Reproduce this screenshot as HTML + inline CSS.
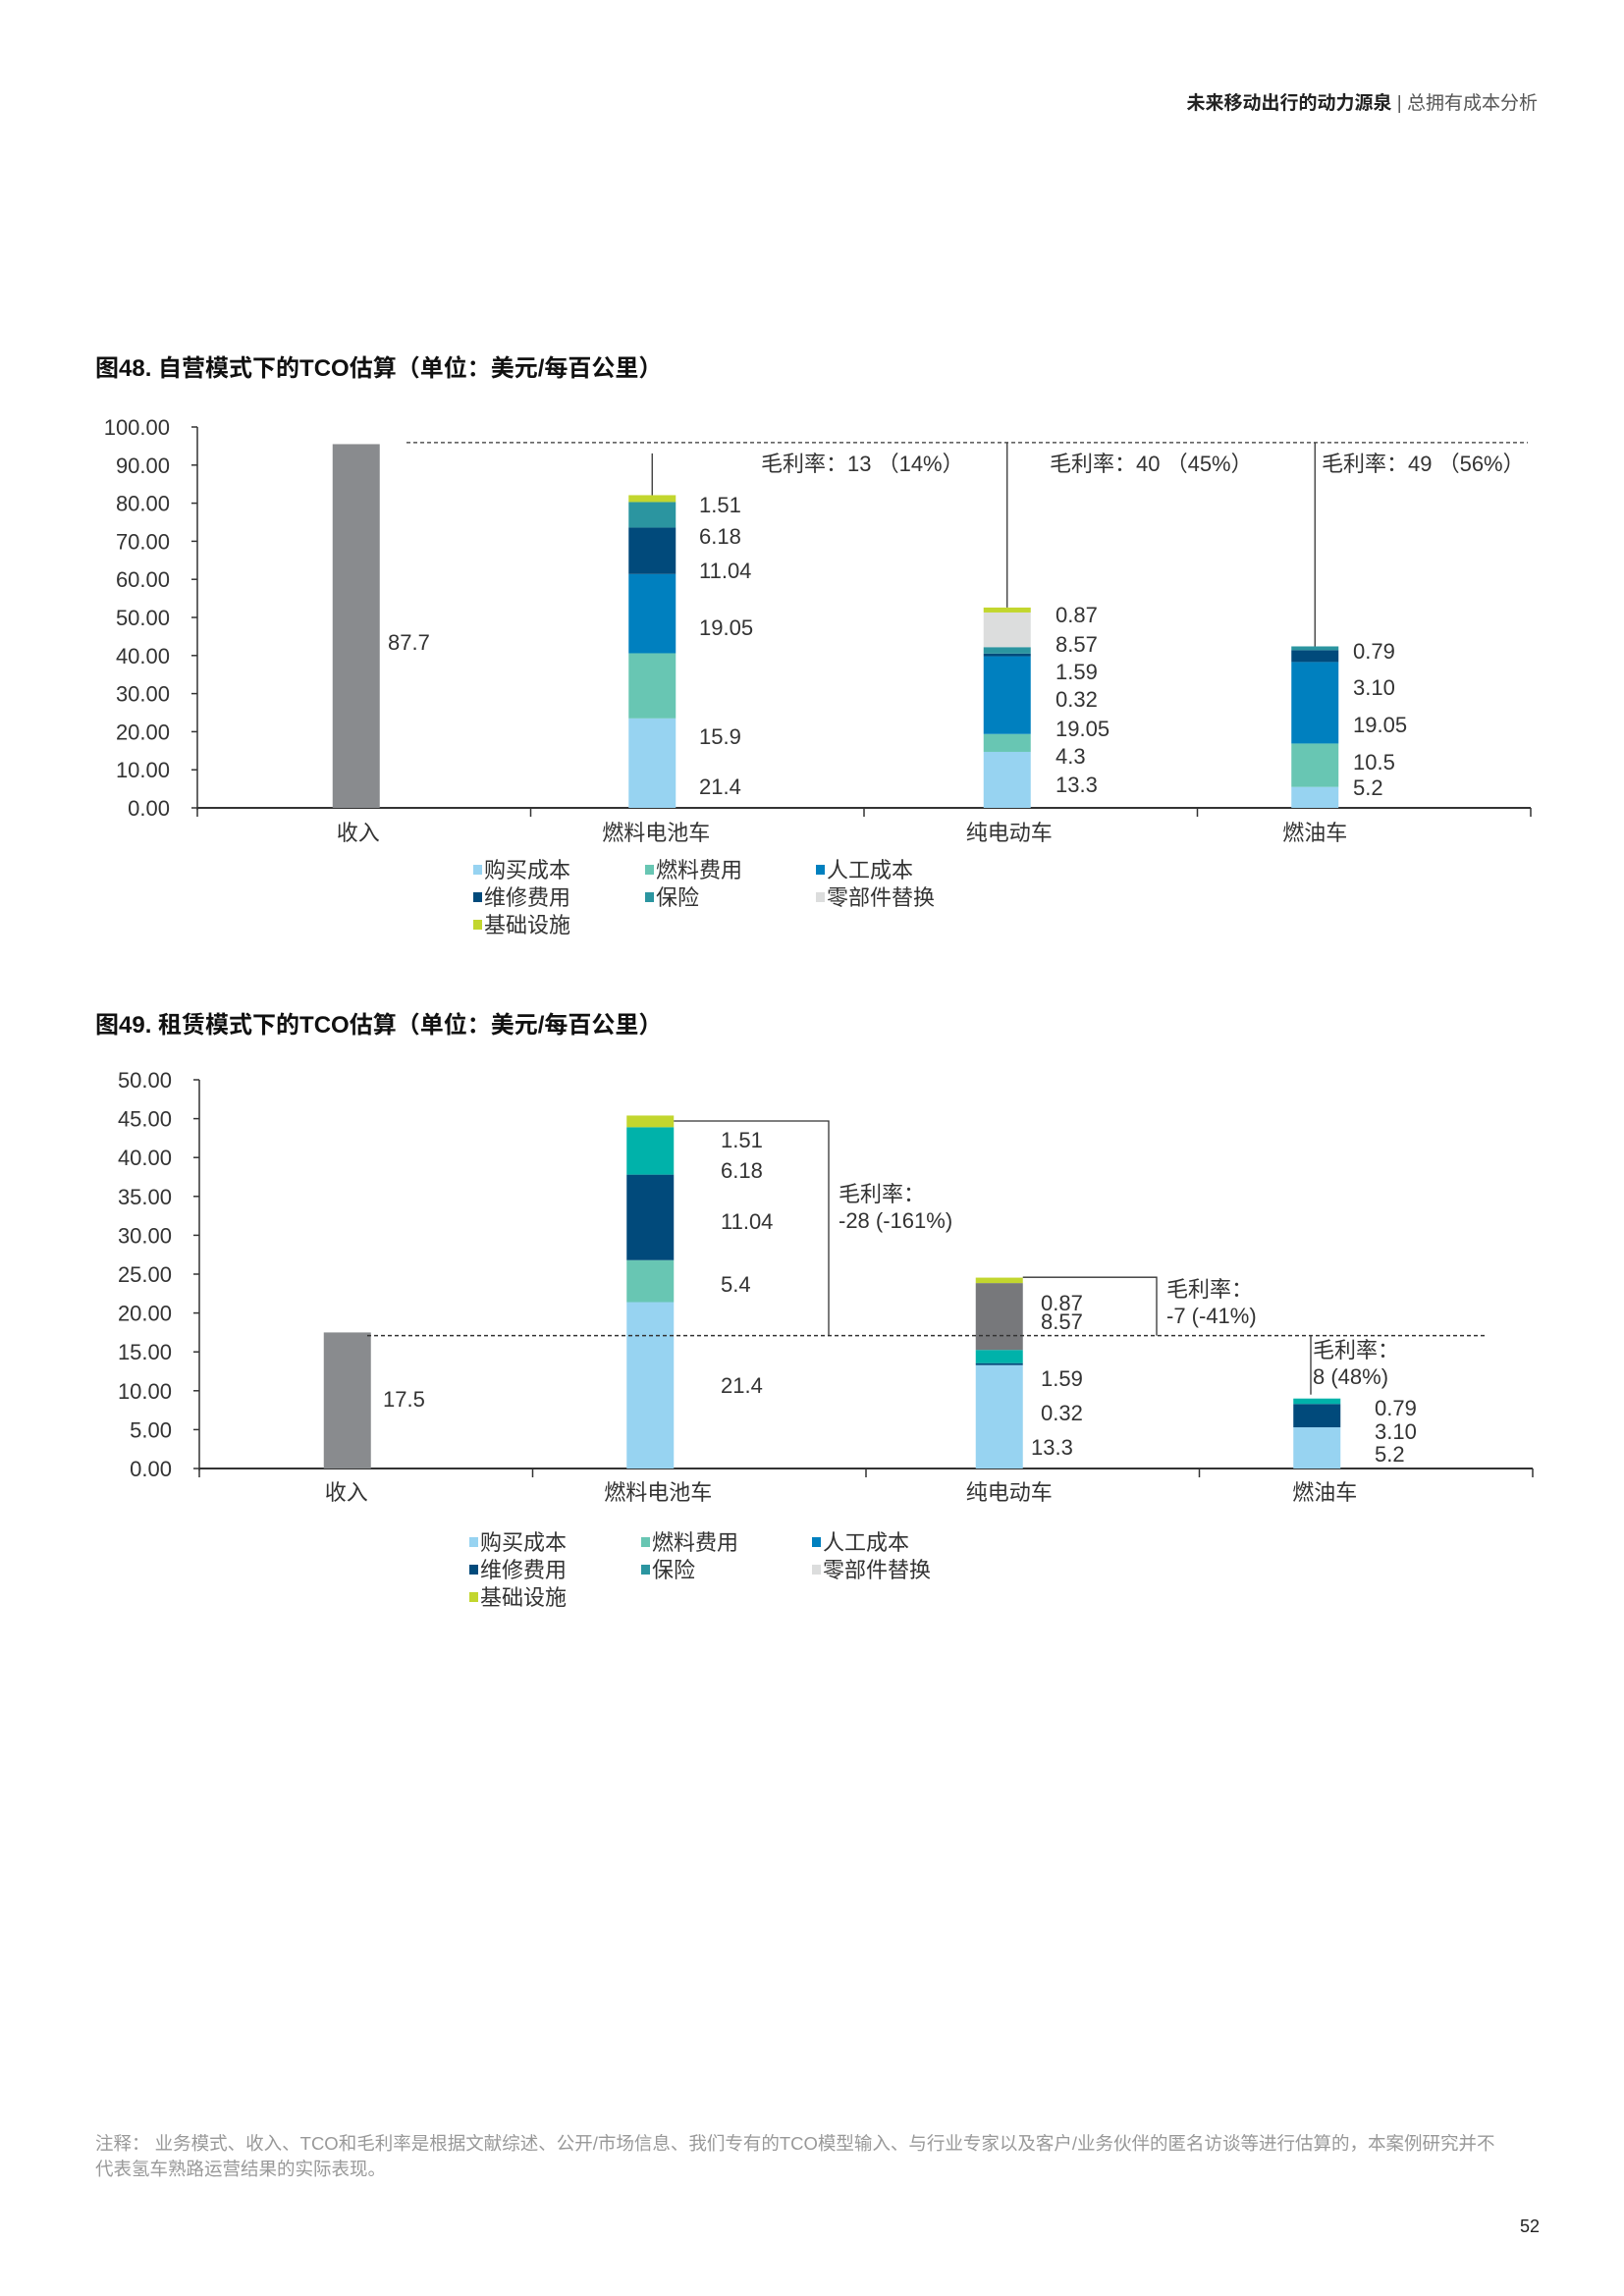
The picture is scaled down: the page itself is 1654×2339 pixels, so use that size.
<!DOCTYPE html>
<html><head><meta charset="utf-8">
<style>
body{margin:0;background:#fff;}
svg{display:block;}
text{font-family:"Liberation Sans","Noto Sans CJK SC",sans-serif;}
</style></head>
<body>
<svg id="page" width="1654" height="2339" viewBox="0 0 1654 2339" xmlns="http://www.w3.org/2000/svg">
<g>
<text x="1566" y="111" text-anchor="end" font-size="19" fill="#222"><tspan font-weight="bold">未来移动出行的动力源泉</tspan><tspan fill="#555"> | 总拥有成本分析</tspan></text>
</g>
<text x="97" y="383" font-size="24" font-weight="bold" fill="#111">图48. 自营模式下的TCO估算（单位：美元/每百公里）</text>
<g id="c1"></g>
<text x="97" y="1052" font-size="24" font-weight="bold" fill="#111">图49. 租赁模式下的TCO估算（单位：美元/每百公里）</text>
<g id="c2"></g>
<g font-size="18.5" fill="#999">
<text x="97" y="2190">注释：  业务模式、收入、TCO和毛利率是根据文献综述、公开/市场信息、我们专有的TCO模型输入、与行业专家以及客户/业务伙伴的匿名访谈等进行估算的，本案例研究并不</text>
<text x="97" y="2216">代表氢车熟路运营结果的实际表现。</text>
</g>
<text x="1568" y="2274" text-anchor="end" font-size="18" fill="#222">52</text>
</svg>
<script>
const categories = ["收入","燃料电池车","纯电动车","燃油车"];
const legendNames = ["购买成本","燃料费用","人工成本","维修费用","保险","零部件替换","基础设施"];
// chart 48 data
const c1Revenue = [95.5];
const c1RevenueLabel = ["87.7"];
const c1FC = [23.5,17.1,20.8,12.2,6.7,1.8];
const c1FCColors = ["#97d3f1","#68c6b3","#0080bf","#014a7b","#2b95a0","#c2d62e"];
const c1FCLabels = ["1.51","6.18","11.04","19.05","15.9","21.4"];
const c1BEV = [14.7,4.7,20.4,0.7,1.7,9.1,1.3];
const c1BEVColors = ["#97d3f1","#68c6b3","#0080bf","#014a7b","#2b95a0","#dcdddd","#c2d62e"];
const c1BEVLabels = ["0.87","8.57","1.59","0.32","19.05","4.3","13.3"];
const c1ICE = [5.5,11.4,21.4,3.1,1.0];
const c1ICEColors = ["#97d3f1","#68c6b3","#0080bf","#014a7b","#2b95a0"];
const c1ICELabels = ["0.79","3.10","19.05","10.5","5.2"];
const c1Ticks = [0,10,20,30,40,50,60,70,80,90,100];
const c1Margin = ["毛利率：13 （14%）","毛利率：40 （45%）","毛利率：49 （56%）"];
const c1RevLine = [95.9];
// chart 49 data
const c2Revenue = [17.5];
const c2RevenueLabel = ["17.5"];
const c2FC = [21.4,5.4,11.0,6.1,1.5];
const c2FCColors = ["#97d3f1","#68c6b3","#014a7b","#00b2aa","#c2d62e"];
const c2FCLabels = ["1.51","6.18","11.04","5.4","21.4"];
const c2BEV = [13.3,0.25,1.7,8.6,0.7];
const c2BEVColors = ["#97d3f1","#014a7b","#00b2aa","#77787b","#c2d62e"];
const c2BEVLabels = ["0.87","8.57","1.59","0.32","13.3"];
const c2ICE = [5.3,3.0,0.7];
const c2ICEColors = ["#97d3f1","#014a7b","#00b2aa"];
const c2ICELabels = ["0.79","3.10","5.2"];
const c2Ticks = [0,5,10,15,20,25,30,35,40,45,50];
const c2Margin = [["毛利率：","-28 (-161%)"],["毛利率：","-7 (-41%)"],["毛利率：","8 (48%)"]];
const c2RevLine = [17.1];
const c2Bracket = [44.7,24.6];

const NS="http://www.w3.org/2000/svg";
function mk(p,tag,at,txt){const e=document.createElementNS(NS,tag);for(const k in at)e.setAttribute(k,at[k]);if(txt!==undefined)e.textContent=txt;p.appendChild(e);return e;}

function axes(g,cfg,ticks){
  const {x0,x1,y0,yTop,max}=cfg;
  const y=v=>y0-(v/max)*(y0-yTop);
  const ax=mk(g,'line',{x1:x0,y1:yTop,x2:x0,y2:y0+2,stroke:'#333','stroke-width':1.5});
  
  
  const xa=mk(g,'line',{x1:x0,y1:y0,x2:x1,y2:y0,stroke:'#333','stroke-width':2});
  
  
  ticks.forEach(t=>{
    const tk=mk(g,'line',{x1:x0-6,y1:y(t),x2:x0,y2:y(t),stroke:'#333','stroke-width':1.5});
    
    
    const tl=mk(g,'text',{x:x0-28,y:y(t)+8,'text-anchor':'end','font-size':22,fill:'#333'},t.toFixed(2));
    
    
  });
  const bw=(x1-x0)/4;
  for(let i=0;i<=4;i++){
    const tk=mk(g,'line',{x1:x0+i*bw,y1:y0,x2:x0+i*bw,y2:y0+9,stroke:'#333','stroke-width':1.5});
    
    
  }
  categories.forEach((c,i)=>{
    const t=mk(g,'text',{x:x0+bw*(i+0.5)+cfg.catShift[i],y:cfg.catY,'text-anchor':'middle','font-size':22,fill:'#333'},c);
    
    
  });
  return {y,bw};
}
function stack(g,cfg,sc,i,vals,cols,name){
  const cx=cfg.x0+sc.bw*(i+0.5)+cfg.barShift[i];
  let acc=0;
  vals.forEach((v,k)=>{
    const r=mk(g,'rect',{x:cx-cfg.barW/2,y:sc.y(acc+v),width:cfg.barW,height:sc.y(acc)-sc.y(acc+v),fill:cols[k]});
    
    
    acc+=v;
  });
  return {cx,top:acc};
}
function labels(g,xs,ys,arr,name){
  arr.forEach((t,k)=>{
    const e=mk(g,'text',{x:xs,y:ys[k]+8,'font-size':22,fill:'#333'},t);
    
    
  });
}
function legend(g,x,y){
  const cols=["#97d3f1","#68c6b3","#0080bf","#014a7b","#2b95a0","#dcdddd","#c2d62e"];
  const xs=[x,x+175,x+349];
  legendNames.forEach((n,k)=>{
    const lx=xs[k%3], ly=y+Math.floor(k/3)*28;
    const s=mk(g,'rect',{x:lx,y:ly-5,width:9,height:10,fill:cols[k]});
    
    
    const t=mk(g,'text',{x:lx+11,y:ly+8,'font-size':22,fill:'#333'},n);
    
    
  });
}

// Chart 48
(function(){
  const g=document.getElementById('c1');
  const cfg={x0:201,x1:1559,y0:823,yTop:435,max:100,barW:48,barShift:[-8,-46,-24,-50],catShift:[-6,-42,-22,-50],catY:856};
  const sc=axes(g,cfg,c1Ticks);
  stack(g,cfg,sc,0,c1Revenue,["#898b8e"],'revenue');
  labels(g,395,[654],c1RevenueLabel,'revenue-label');
  const a=stack(g,cfg,sc,1,c1FC,c1FCColors,'fuel-cell');
  const b=stack(g,cfg,sc,2,c1BEV,c1BEVColors,'bev');
  const c=stack(g,cfg,sc,3,c1ICE,c1ICEColors,'ice');
  labels(g,712,[514,546,581,639,750,801],c1FCLabels,'fuel-cell-label');
  labels(g,1075,[626,656,684,712,742,770,799],c1BEVLabels,'bev-label');
  labels(g,1378,[663,700,738,776,802],c1ICELabels,'ice-label');
  const dl=mk(g,'line',{x1:414,y1:sc.y(c1RevLine[0]),x2:1556,y2:sc.y(c1RevLine[0]),stroke:'#333','stroke-width':1.2,'stroke-dasharray':'4,3'});
  
  
  [[a,sc.y(c1RevLine[0])+11],[b,sc.y(c1RevLine[0])],[c,sc.y(c1RevLine[0])]].forEach(([s,yt])=>{
    const l=mk(g,'line',{x1:s.cx,y1:yt,x2:s.cx,y2:sc.y(s.top),stroke:'#333','stroke-width':1.3});
    
    
  });
  [[775],[1069],[1346]].forEach(([x],k)=>{
    const t=mk(g,'text',{x:x,y:480,'font-size':22,fill:'#333'},c1Margin[k]);
    
    
  });
  legend(g,482,886);
})();

// Chart 49
(function(){
  const g=document.getElementById('c2');
  const cfg={x0:203,x1:1561,y0:1496,yTop:1100,max:50,barW:48,barShift:[-19,-50,-34,-50],catShift:[-20,-42,-24,-42],catY:1528};
  const sc=axes(g,cfg,c2Ticks);
  stack(g,cfg,sc,0,c2Revenue,["#898b8e"],'revenue');
  labels(g,390,[1425],c2RevenueLabel,'revenue-label');
  const a=stack(g,cfg,sc,1,c2FC,c2FCColors,'fuel-cell');
  const b=stack(g,cfg,sc,2,c2BEV,c2BEVColors,'bev');
  const c=stack(g,cfg,sc,3,c2ICE,c2ICEColors,'ice');
  labels(g,734,[1161,1192,1244,1308,1411],c2FCLabels,'fuel-cell-label');
  labels(g,1060,[1327,1346,1404,1439],c2BEVLabels.slice(0,4),'bev-label');
  labels(g,1050,[1474],c2BEVLabels.slice(4),'bev-label');
  labels(g,1400,[1434,1458,1481],c2ICELabels,'ice-label');
  const yl=sc.y(c2RevLine[0]);
  const dl=mk(g,'line',{x1:374,y1:yl,x2:1513,y2:yl,stroke:'#333','stroke-width':1.5,'stroke-dasharray':'4,3'});
  
  
  const bx=[844,1178];
  [[a,c2Bracket[0]],[b,c2Bracket[1]]].forEach(([s,v],k)=>{
    const p=mk(g,'polyline',{points:`${s.cx+24},${sc.y(v)} ${bx[k]},${sc.y(v)} ${bx[k]},${yl}`,fill:'none',stroke:'#333','stroke-width':1.3});
    
    
  });
  const vl=mk(g,'line',{x1:1335,y1:yl,x2:1335,y2:sc.y(c.top)-4,stroke:'#333','stroke-width':1.3});
  
  
  [[854,1224],[1188,1321],[1337,1383]].forEach(([x,y0],k)=>{
    c2Margin[k].forEach((s,j)=>{
      const t=mk(g,'text',{x:x,y:y0+j*27,'font-size':22,fill:'#333'},s);
      
      
    });
  });
  legend(g,478,1571);
})();
</script>
</body></html>
